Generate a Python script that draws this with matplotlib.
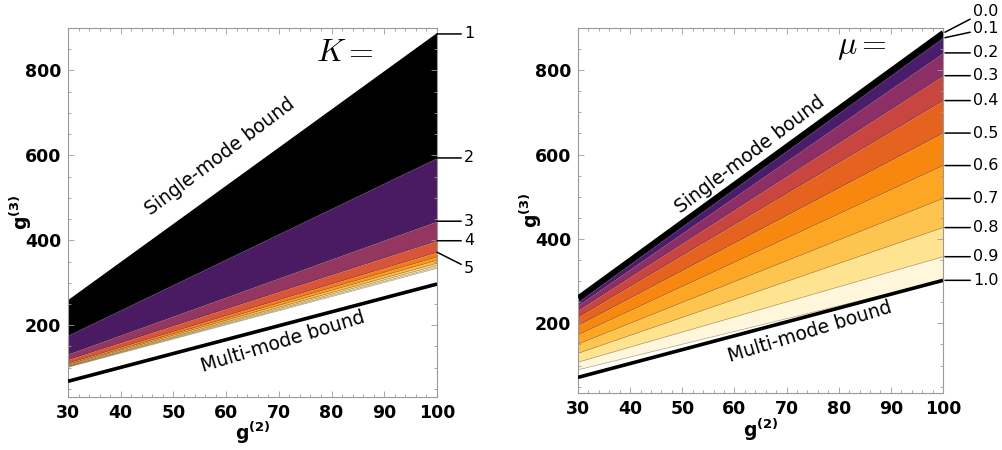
import matplotlib
matplotlib.use("Agg")
import matplotlib.pyplot as plt
import matplotlib.transforms as mtransforms
from matplotlib.ticker import MultipleLocator

# ---------------- data ----------------
g2 = [30, 100]
single_mode = [261, 890]
multi_mode_left = [68, 297]
multi_mode_right = [72, 302]

# left panel: tops of the K bands at g2 = 30 and g2 = 100, plus the bottom edge
K_labels = ["1", "2", "3", "4", "5"]
K_top_30 = [261, 176, 132, 119, 111, 108, 106, 104, 103, 102]
K_top_100 = [890, 594, 445, 399, 372, 361, 353, 346, 341, 337]
K_bottom = [101, 334]
K_colors = ['#000000', '#4a1b62', '#943760', '#d9553a', '#f47b17',
            '#fb9a21', '#fcb947', '#fdd57b', '#feeab0', '#fff6dc']
K_label_y = [886, 594, 445, 399, 334]
K_label_target = [886, 594, 445, 399, 372]

# right panel: mu contour lines at g2 = 30 and g2 = 100
mu_labels = ["0.0", "0.1", "0.2", "0.3", "0.4", "0.5", "0.6", "0.7", "0.8", "0.9", "1.0"]
mu_line_30 = [261, 251, 243, 231, 215, 195, 173, 151, 129, 108, 90]
mu_line_100 = [890, 877, 841, 787, 728, 651, 574, 496, 427, 358, 302]
mu_colors = ['#000000', '#4b1c6c', '#8d2f66', '#c8463f', '#e6621f',
             '#f8870f', '#fca624', '#fdc54f', '#fee391', '#fff6dc']
mu_label_y = [940, 898, 841, 787, 728, 651, 574, 496, 427, 358, 302]

xticks = [30, 40, 50, 60, 70, 80, 90, 100]
yticks = [200, 400, 600, 800]

# ---------------- figure ----------------
W, H = 1003, 450
fig = plt.figure(figsize=(W / 100, H / 100), dpi=100)
axL = fig.add_axes([68 / W, (H - 397) / H, 369 / W, 369 / H])
axR = fig.add_axes([578 / W, (H - 393) / H, 365 / W, 365 / H])

spine_col = '#9a9a9a'


def style_axes(ax, ylim):
    ax.set_xlim(30, 100)
    ax.set_ylim(*ylim)
    ax.set_xticks(xticks)
    ax.set_yticks(yticks)
    ax.xaxis.set_minor_locator(MultipleLocator(2))
    ax.yaxis.set_minor_locator(MultipleLocator(50))
    ax.tick_params(which='both', direction='in', top=True, right=True,
                   color=spine_col, width=0.6)
    ax.tick_params(which='major', length=4, labelsize=12.5, pad=5)
    ax.tick_params(which='minor', length=2)
    for lab in ax.get_xticklabels() + ax.get_yticklabels():
        lab.set_fontweight('bold')
    for s in ax.spines.values():
        s.set_color(spine_col)
        s.set_linewidth(0.8)
    ax.set_xlabel(r'$\mathbf{g^{(2)}}$', fontsize=13.5)
    ax.set_ylabel(r'$\mathbf{g^{(3)}}$', fontsize=13.5)


style_axes(axL, (31, 900))
style_axes(axR, (35, 900))
axL.xaxis.set_label_coords(0.5, -0.062)
axL.yaxis.set_label_coords(-0.092, 0.5)
axR.xaxis.set_label_coords(0.5, -0.066)
axR.yaxis.set_label_coords(-0.092, 0.5)

# ---------------- left panel ----------------
for i in range(len(K_top_30)):
    top = [K_top_30[i], K_top_100[i]]
    if i + 1 < len(K_top_30):
        bot = [K_top_30[i + 1], K_top_100[i + 1]]
    else:
        bot = K_bottom
    axL.fill_between(g2, bot, top, color=K_colors[i], lw=0, zorder=1)
    axL.plot(g2, bot, color='#333333', lw=0.4, alpha=0.5, zorder=2)
axL.plot(g2, multi_mode_left, color='black', lw=2.6, solid_capstyle='butt', zorder=3)

bl = mtransforms.blended_transform_factory(axL.transAxes, axL.transData)
for lab, ly, lt in zip(K_labels, K_label_y, K_label_target):
    dy = axL.transData.transform((0, ly))[1] - axL.transData.transform((0, lt))[1]
    axL.annotate(lab, xy=(1.0, lt), xycoords=bl,
                 xytext=(27, dy), textcoords='offset pixels',
                 ha='left', va='center', fontsize=11.5, annotation_clip=False,
                 arrowprops=dict(arrowstyle='-', lw=1.1, color='black',
                                 shrinkA=0, shrinkB=0))

axL.text(77, 843, r'$K=$', fontsize=23, math_fontfamily='cm',
         ha='left', va='center')
axL.text(58.8, 596, 'Single-mode bound', fontsize=13.5, rotation=37,
         ha='center', va='center', rotation_mode='anchor')
axL.text(70.8, 160, 'Multi-mode bound', fontsize=13.5, rotation=17,
         ha='center', va='center', rotation_mode='anchor')

# ---------------- right panel ----------------
for i in range(len(mu_colors)):
    top = [mu_line_30[i], mu_line_100[i]]
    bot = [mu_line_30[i + 1], mu_line_100[i + 1]]
    axR.fill_between(g2, bot, top, color=mu_colors[i], lw=0, zorder=1)
    axR.plot(g2, bot, color='#333333', lw=0.4, alpha=0.5, zorder=2)
axR.plot(g2, single_mode, color='black', lw=3.2, solid_capstyle='butt', zorder=3)
axR.plot(g2, multi_mode_right, color='black', lw=2.6, solid_capstyle='butt', zorder=3)

br = mtransforms.blended_transform_factory(axR.transAxes, axR.transData)
off = mtransforms.ScaledTranslation(2 / 100, 0, fig.dpi_scale_trans)
for lab, ly, lt in zip(mu_labels, mu_label_y, mu_line_100):
    dy = axR.transData.transform((0, ly))[1] - axR.transData.transform((0, lt))[1]
    axR.annotate(lab, xy=(1.0, lt), xycoords=br + off,
                 xytext=(28, dy), textcoords='offset pixels',
                 ha='left', va='center', fontsize=11.5, annotation_clip=False,
                 arrowprops=dict(arrowstyle='-', lw=1.1, color='black',
                                 shrinkA=0, shrinkB=0))

axR.text(79.6, 855, r'$\mu=$', fontsize=23, math_fontfamily='cm',
         ha='left', va='center')
axR.text(63, 600, 'Single-mode bound', fontsize=13.5, rotation=37,
         ha='center', va='center', rotation_mode='anchor')
axR.text(74.5, 179, 'Multi-mode bound', fontsize=13.5, rotation=17,
         ha='center', va='center', rotation_mode='anchor')

fig.savefig('out.png', dpi=100)
